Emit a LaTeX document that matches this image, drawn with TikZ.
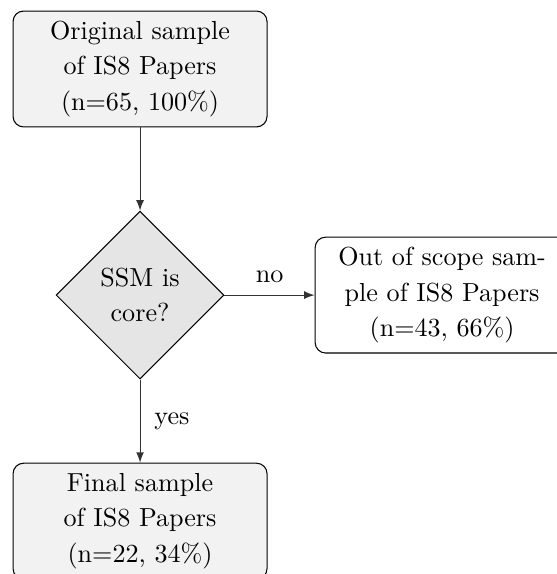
\documentclass[tikz,border=0pt]{standalone}
\usetikzlibrary{shapes.geometric,arrows}

\tikzset{
  samplebox/.style={draw, rounded corners=4pt, align=center, minimum width=3.42cm, minimum height=1.56cm, fill=gray!10},
  outbox/.style={samplebox, fill=white},
  decision/.style={draw, diamond, aspect=1, align=center, inner sep=0pt, minimum width=2.26cm, minimum height=2.26cm, fill=gray!20},
  flow/.style={draw=black!80, -latex}
}

\begin{document}
\begin{tikzpicture}[font=\fontsize{10}{13.6}\selectfont]
        %% Frame of the picture
        \useasboundingbox (0,0) rectangle (7.50,-7.73);
        \clip (0,0) rectangle (7.50,-7.73);
        %% Samples
        \node[samplebox] (original) at (1.886,-0.929) {Original sample\\of IS8 Papers\\(n=65, 100\%)};
        \node[decision] (core) at (1.886,-3.974) {SSM is\\core?};
        \node[outbox] (outscope) at (5.954,-3.974) {Out of scope sam-\\ple of IS8 Papers\\(n=43, 66\%)};
        \node[samplebox] (final) at (1.886,-7.018) {Final sample\\of IS8 Papers\\(n=22, 34\%)};
        %% Flow
        \draw[flow] (original) -- (core);
        \draw[flow] (core) -- (outscope) node[pos=0.5,anchor=south,yshift=1pt] {no};
        \draw[flow] (core) -- (final) node[pos=0.5,anchor=west,xshift=2pt] {yes};
    \end{tikzpicture}
\end{document}
